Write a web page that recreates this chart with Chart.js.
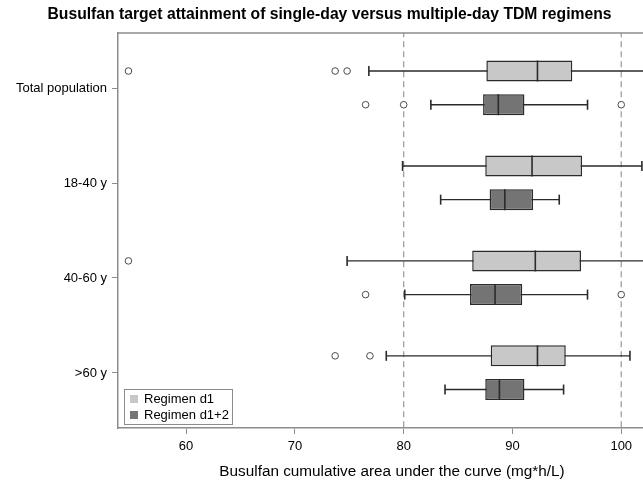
<!DOCTYPE html>
<html>
<head>
<meta charset="utf-8">
<script src="https://cdn.jsdelivr.net/npm/chart.js@4.4.1/dist/chart.umd.min.js"></script>
<style>
  html, body { margin: 0; padding: 0; background: #fff; }
  #wrap { width: 643px; height: 481px; }
</style>
</head>
<body>
<div id="wrap"><canvas id="chart" width="643" height="481"></canvas></div>
<script>
// categories (top to bottom)
const groups = ['Total population', '18-40 y', '40-60 y', '>60 y'];
const regimens = ['Regimen d1', 'Regimen d1+2'];
const xTicks = [60, 70, 80, 90, 100];
const targetLines = [80, 100];

// Regimen d1 box statistics
const d1Min = [76.8, 79.9, 74.8, 78.4];
const d1Q1 = [87.6, 87.5, 86.3, 88.0];
const d1Median = [92.3, 91.8, 92.1, 92.3];
const d1Q3 = [95.5, 96.4, 96.3, 94.9];
const d1Max = [103.5, 101.9, 103.5, 100.8];
const d1Outliers = [[54.7, 73.7, 74.8], [], [54.7], [73.7, 76.9]];

// Regimen d1+2 box statistics
const d2Min = [82.5, 83.4, 80.1, 83.8];
const d2Q1 = [87.3, 87.9, 86.1, 87.5];
const d2Median = [88.7, 89.3, 88.4, 88.8];
const d2Q3 = [91.1, 91.9, 90.9, 91.1];
const d2Max = [96.9, 94.3, 96.9, 94.7];
const d2Outliers = [[76.5, 80.0, 100.0], [], [76.5, 100.0], []];

const FONT = '"Liberation Sans", Arial, sans-serif';
const LINE = '#2b2b2b';
const FRAME = '#8c8c8c';
const fills = ['#c8c8c8', '#747474'];
const shift = [-0.18, 0.175];   // d1 sits above the tick, d1+2 below

function boxDatasets(r, mins, q1, med, q3, maxs, outs) {
  const pos = groups.map((g, i) => i + shift[r]);
  const whisk = [];
  const caps = [];
  groups.forEach((g, i) => {
    whisk.push({ x: mins[i], y: pos[i] }, { x: maxs[i], y: pos[i] }, { x: null, y: null });
    caps.push({ x: mins[i], y: pos[i] }, { x: maxs[i], y: pos[i] });
  });
  const outPts = [];
  outs.forEach((list, i) => list.forEach(v => outPts.push({ x: v, y: pos[i] })));
  return [
    { type: 'line', label: 'w' + r, data: whisk, borderColor: LINE, borderWidth: 1.4,
      pointRadius: 0, spanGaps: false, order: 5 },
    { type: 'scatter', label: 'c' + r, data: caps, pointStyle: 'line', rotation: 90,
      radius: 5, borderColor: LINE, borderWidth: 1.6, order: 4 },
    { type: 'bar', label: regimens[r], indexAxis: 'y', grouped: false,
      data: groups.map((g, i) => ({ x: [q1[i], q3[i]], y: pos[i] })),
      backgroundColor: fills[r], borderColor: LINE, borderWidth: 1.5,
      borderSkipped: false, maxBarThickness: 21, barPercentage: 1, order: 3 },
    { type: 'scatter', label: 'm' + r, data: groups.map((g, i) => ({ x: med[i], y: pos[i] })),
      pointStyle: 'line', rotation: 90, radius: 10.5, borderColor: LINE, borderWidth: 1.6, order: 2 },
    { type: 'scatter', label: 'o' + r, data: outPts, pointStyle: 'circle', radius: 3.3,
      backgroundColor: '#fff', borderColor: '#4a4a4a', borderWidth: 1, order: 1 }
  ];
}

const refSets = targetLines.map(v => ({
  type: 'line', label: 'ref' + v, data: [{ x: v, y: -0.6 }, { x: v, y: 3.6 }],
  borderColor: '#a0a0a0', borderWidth: 1.3, borderDash: [6, 4], pointRadius: 0, order: 9
}));

const legendBox = {
  id: 'legendBox',
  afterDraw(chart) {
    const ctx = chart.ctx;
    const a = chart.chartArea;
    // top frame line
    ctx.save();
    ctx.strokeStyle = FRAME;
    ctx.lineWidth = 1.5;
    ctx.beginPath();
    ctx.moveTo(a.left, a.top);
    ctx.lineTo(a.right, a.top);
    ctx.stroke();

    const x0 = a.left + 6, y0 = a.bottom - 39, w = 108, h = 35;
    ctx.fillStyle = '#fff';
    ctx.fillRect(x0, y0, w, h);
    ctx.strokeStyle = FRAME;
    ctx.lineWidth = 1;
    ctx.strokeRect(x0 + 0.5, y0 + 0.5, w, h);
    ctx.font = '13px ' + FONT;
    ctx.textBaseline = 'middle';
    regimens.forEach((name, i) => {
      const cy = y0 + 10 + i * 16;
      ctx.fillStyle = fills[i];
      ctx.fillRect(x0 + 6, cy - 4, 8, 8);
      ctx.fillStyle = '#000';
      ctx.fillText(name, x0 + 20, cy + 0.5);
    });
    ctx.restore();
  }
};

new Chart(document.getElementById('chart'), {
  type: 'scatter',
  data: {
    datasets: [
      ...refSets,
      ...boxDatasets(0, d1Min, d1Q1, d1Median, d1Q3, d1Max, d1Outliers),
      ...boxDatasets(1, d2Min, d2Q1, d2Median, d2Q3, d2Max, d2Outliers)
    ]
  },
  options: {
    responsive: false,
    animation: false,
    events: [],
    layout: { autoPadding: false, padding: { left: 16, right: 0, top: 0, bottom: 0 } },
    plugins: {
      legend: { display: false },
      tooltip: { enabled: false },
      title: {
        display: true,
        text: 'Busulfan target attainment of single-day versus multiple-day TDM regimens',
        color: '#000',
        font: { family: FONT, size: 15.7, weight: 'bold' },
        padding: { top: 5, bottom: 9.2 }
      }
    },
    scales: {
      x: {
        type: 'linear',
        min: 53.74,
        max: 102,
        afterBuildTicks: s => { s.ticks = xTicks.map(v => ({ value: v })); },
        afterFit: s => { s.height = 53; s.paddingLeft = 0; s.paddingRight = 0; },
        grid: { drawOnChartArea: false, drawTicks: true, tickLength: 6, color: FRAME, lineWidth: 1 },
        border: { display: true, color: FRAME, width: 1.5 },
        ticks: { color: '#000', font: { family: FONT, size: 13 }, padding: 5 },
        title: {
          display: true,
          // leading spaces nudge the centred title right, as in the original
          text: '\u2002\u2002\u2002Busulfan cumulative area under the curve (mg*h/L)',
          color: '#000',
          font: { family: FONT, size: 15.3 },
          padding: { top: 2, bottom: 0 }
        }
      },
      y: {
        type: 'linear',
        reverse: true,
        offset: false,
        min: -0.58,
        max: 3.58,
        afterBuildTicks: s => { s.ticks = groups.map((g, i) => ({ value: i })); },
        afterFit: s => { s.width = 102; s.paddingTop = 0; s.paddingBottom = 0; },
        grid: { offset: false, drawOnChartArea: false, drawTicks: true, tickLength: 6, color: FRAME, lineWidth: 1 },
        border: { display: true, color: FRAME, width: 1.5 },
        ticks: {
          color: '#000',
          font: { family: FONT, size: 13 },
          padding: 5,
          callback: v => groups[v]
        }
      }
    }
  },
  plugins: [legendBox]
});
</script>
</body>
</html>
